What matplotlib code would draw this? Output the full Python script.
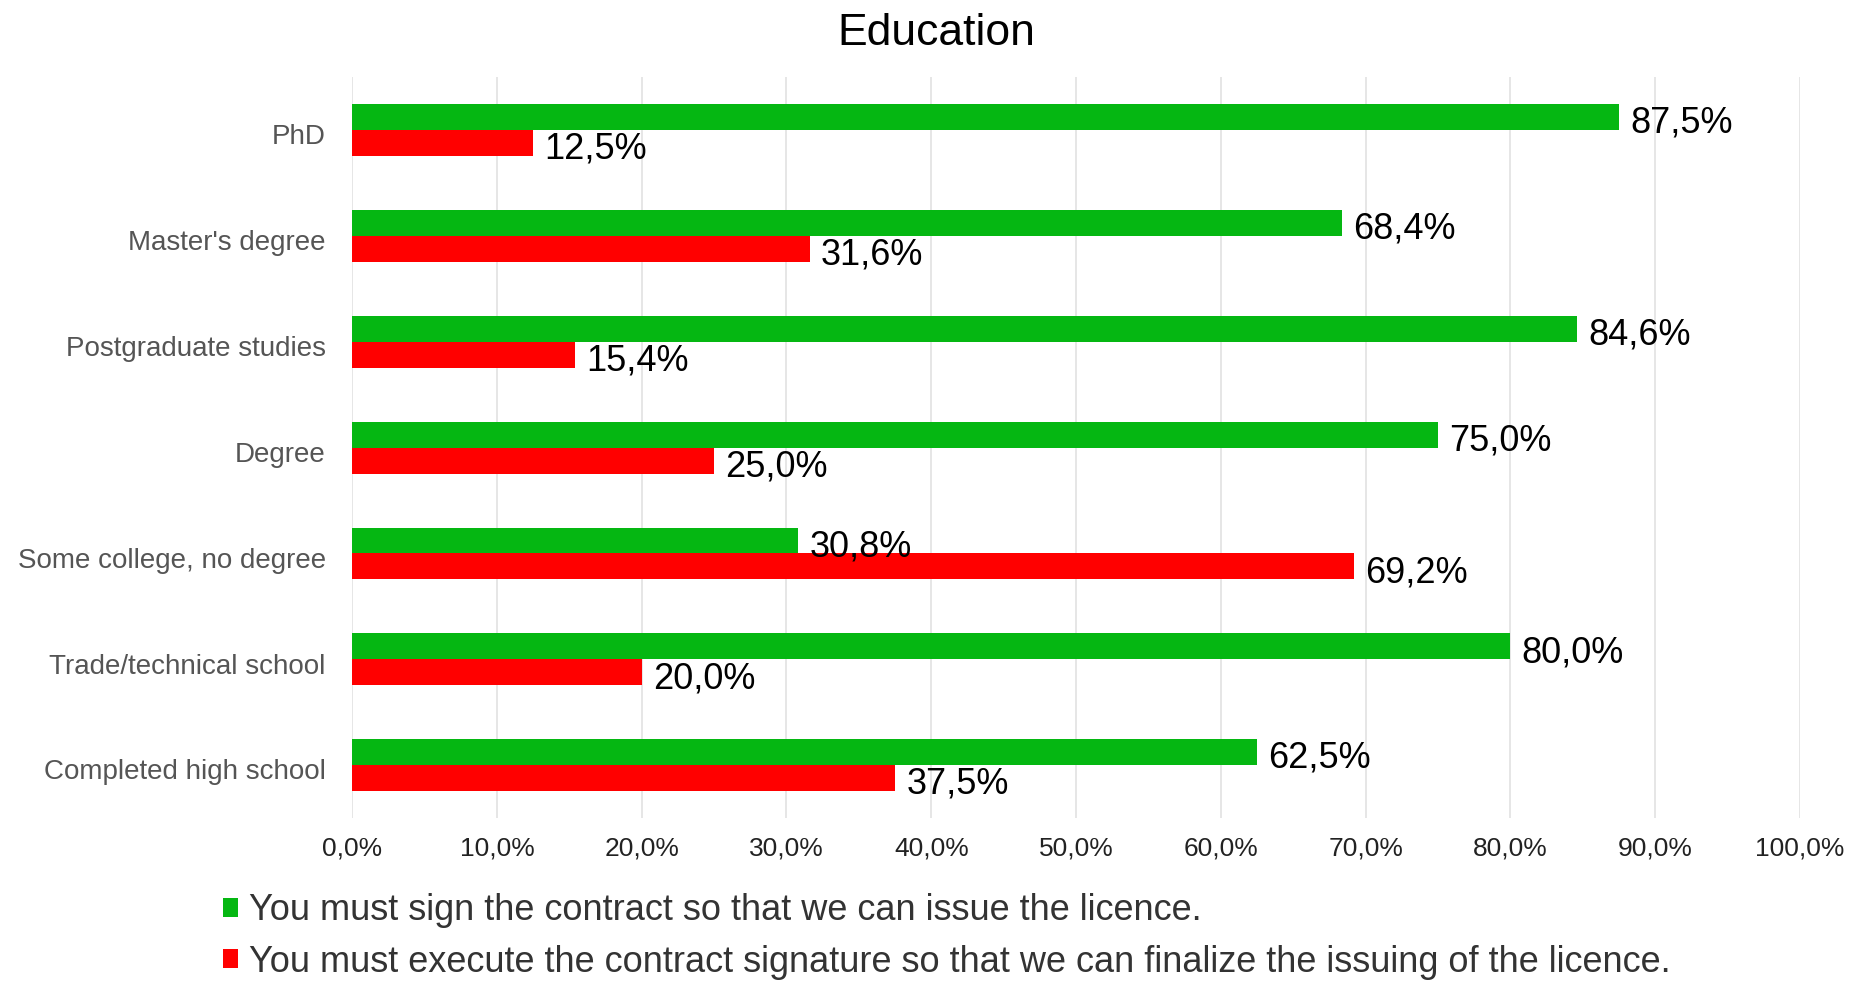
import numpy as np
import matplotlib.pyplot as plt
import matplotlib.transforms as mtransforms
from matplotlib.ticker import FuncFormatter

plt.rcParams['font.family'] = ['Liberation Sans', 'DejaVu Sans']

# categories, top to bottom
categories = ["PhD", "Master's degree", "Postgraduate studies", "Degree",
              "Some college, no degree", "Trade/technical school",
              "Completed high school"]
sign = [87.5, 68.4, 84.6, 75.0, 30.8, 80.0, 62.5]
execute = [12.5, 31.6, 15.4, 25.0, 69.2, 20.0, 37.5]
series_names = ["You must sign the contract so that we can issue the licence.",
                "You must execute the contract signature so that we can finalize the issuing of the licence."]

green = '#05b712'
red = '#ff0000'

fig = plt.figure(figsize=(18.58, 9.81), dpi=100)
ax = fig.add_axes([0.1895, 0.166, 0.7793, 0.7555])

y = np.arange(len(categories))
h = 0.245
b1 = ax.barh(y - h / 2, sign, height=h, color=green, label=series_names[0])
b2 = ax.barh(y + h / 2, execute, height=h, color=red, label=series_names[1])

def pct(v):
    return ('%.1f%%' % v).replace('.', ',')

for bars, vals in ((b1, sign), (b2, execute)):
    for rect, v in zip(bars, vals):
        ax.annotate(pct(v), (rect.get_width(), rect.get_y() + rect.get_height() / 2),
                    xytext=(8, -4.5), textcoords='offset points',
                    ha='left', va='center', fontsize=26, color='black')

ax.set_xlim(0, 100)
ax.set_ylim(len(categories) - 0.5, -0.5)
ax.set_xticks(np.arange(0, 101, 10))
ax.xaxis.set_major_formatter(FuncFormatter(lambda v, p: pct(v)))
ax.set_yticks(y)
ax.set_yticklabels(categories)
ax.tick_params(axis='x', length=0, pad=13, labelsize=19, labelcolor='#222222')
ax.tick_params(axis='y', length=0, pad=19, labelsize=20, labelcolor='#555555')
# nudge category labels down a little
shift = mtransforms.ScaledTranslation(0, -3 / 72, fig.dpi_scale_trans)
for lab in ax.get_yticklabels():
    lab.set_transform(lab.get_transform() + shift)
ax.grid(axis='x', color='#e2e2e2', linewidth=1.2)
ax.set_axisbelow(True)
for s in ax.spines.values():
    s.set_visible(False)

fig.text(0.504, 0.966, 'Education', ha='center', va='center', fontsize=32, color='black')

leg = fig.legend(handles=[b1, b2], loc='upper left',
                 frameon=False, fontsize=26, handlelength=0.42, handleheight=0.42,
                 handletextpad=0.3, labelspacing=0.45, borderaxespad=0)
leg.set_bbox_to_anchor((0.112, 0.104), transform=fig.transFigure)
for t in leg.get_texts():
    t.set_color('#333333')

fig.savefig('out.png', dpi=100)
